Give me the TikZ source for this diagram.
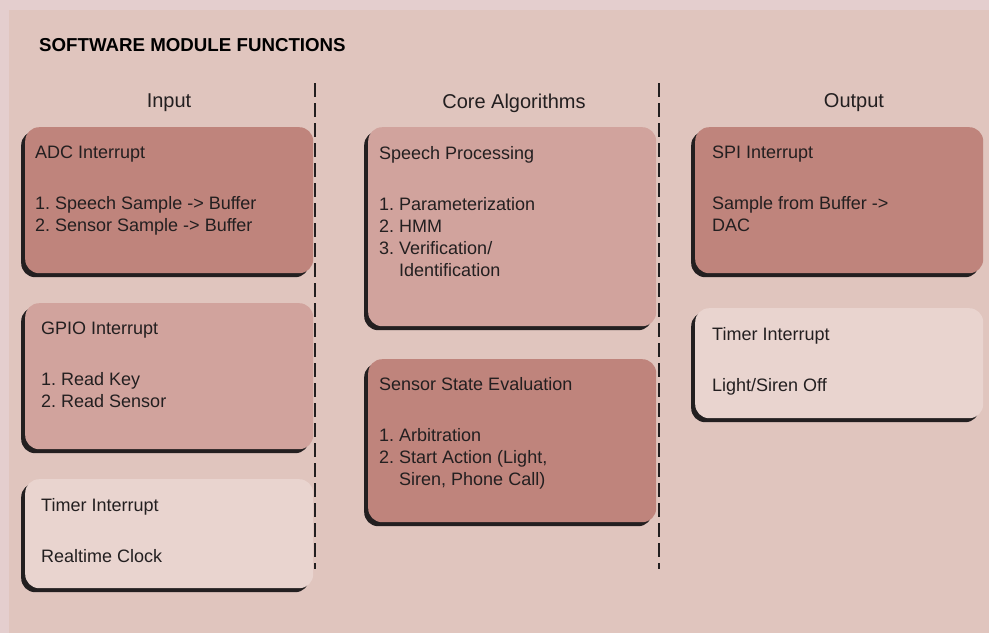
\documentclass[tikz,border=0pt]{standalone}
\usepackage{fontspec}
\setmainfont{Liberation Sans}
\usetikzlibrary{positioning,shadows}

\definecolor{pagebg}{RGB}{228,206,206}
\definecolor{panelbg}{RGB}{224,197,190}
\definecolor{darkbox}{RGB}{191,132,124}
\definecolor{midbox}{RGB}{209,163,157}
\definecolor{lightbox}{RGB}{233,212,207}
\definecolor{inkc}{RGB}{35,31,32}

\tikzset{
  modbox/.style={fill=#1, rounded corners=14pt, inner sep=0, anchor=north west,
    general shadow={fill=inkc, shadow xshift=-4pt, shadow yshift=-4pt}},
  modtext/.style={anchor=north west, inner sep=0, align=left, text=inkc,
    font=\fontsize{18}{22}\selectfont\frenchspacing},
  colhead/.style={text=inkc, inner sep=0, font=\fontsize{20}{24}\selectfont},
  sepline/.style={draw=inkc, line width=2pt, dash pattern=on 14pt off 6pt}
}

\begin{document}
\frenchspacing
\begin{tikzpicture}[x=1pt,y=-1pt]
\useasboundingbox (0,0) rectangle (989,633);
\fill[pagebg] (0,0) rectangle (989,633);
\fill[panelbg] (9,10) rectangle (989,633);

\node (title) at (39,45) [anchor=west, inner sep=0, text=black, font=\fontsize{18.7}{22}\selectfont\bfseries] {SOFTWARE MODULE FUNCTIONS};

\node (h0) at (169,103) [colhead] {Input};
\node (h1) at (514,103) [colhead] {Core Algorithms};
\node (h2) at (854,103) [colhead] {Output};

% box corners
\coordinate (b0) at (25,127);
\coordinate (b1) at (25,303);
\coordinate (b2) at (25,479);
\coordinate (b3) at (368,127);
\coordinate (b4) at (368,359);
\coordinate (b5) at (695,127);
\coordinate (b6) at (695,308);

\node (m0) at (b0) [modbox=darkbox, minimum width=288, minimum height=146] {};
\node (m1) at (b1) [modbox=midbox, minimum width=288, minimum height=146] {};
\node (m2) at (b2) [modbox=lightbox, minimum width=288, minimum height=109] {};
\node (m3) at (b3) [modbox=midbox, minimum width=288, minimum height=199] {};
\node (m4) at (b4) [modbox=darkbox, minimum width=288, minimum height=163] {};
\node (m5) at (b5) [modbox=darkbox, minimum width=288, minimum height=146] {};
\node (m6) at (b6) [modbox=lightbox, minimum width=288, minimum height=110] {};

\node (t0) at ([shift={(10,19)}]m0.north west) [modtext] {ADC Interrupt\\[29pt]1. Speech Sample -> Buffer\\2. Sensor Sample -> Buffer};
\node (t1) at ([shift={(16,19)}]m1.north west) [modtext] {GPIO Interrupt\\[29pt]1. Read Key\\2. Read Sensor};
\node (t2) at ([shift={(16,19)}]m2.north west) [modtext] {Timer Interrupt\\[29pt]Realtime Clock};
\node (t3) at ([shift={(11,19)}]m3.north west) [modtext] {Speech Processing\\[29pt]1. Parameterization\\2. HMM\\3. Verification/\\\hphantom{3.\ }Identification};
\node (t4) at ([shift={(11,18)}]m4.north west) [modtext] {Sensor State Evaluation\\[29pt]1. Arbitration\\2. Start Action (Light,\\\hphantom{2.\ }Siren, Phone Call)};
\node (t5) at ([shift={(17,19)}]m5.north west) [modtext] {SPI Interrupt\\[29pt]Sample from Buffer ->\\DAC};
\node (t6) at ([shift={(17,19)}]m6.north west) [modtext] {Timer Interrupt\\[29pt]Light/Siren Off};

% column separators
\coordinate (d0) at (315,83);
\coordinate (e0) at (315,569);
\coordinate (d1) at (659,83);
\coordinate (e1) at (659,569);

\foreach \i in {0,1} {
\draw[sepline] (d\i) -- (e\i);
};
\end{tikzpicture}
\end{document}
